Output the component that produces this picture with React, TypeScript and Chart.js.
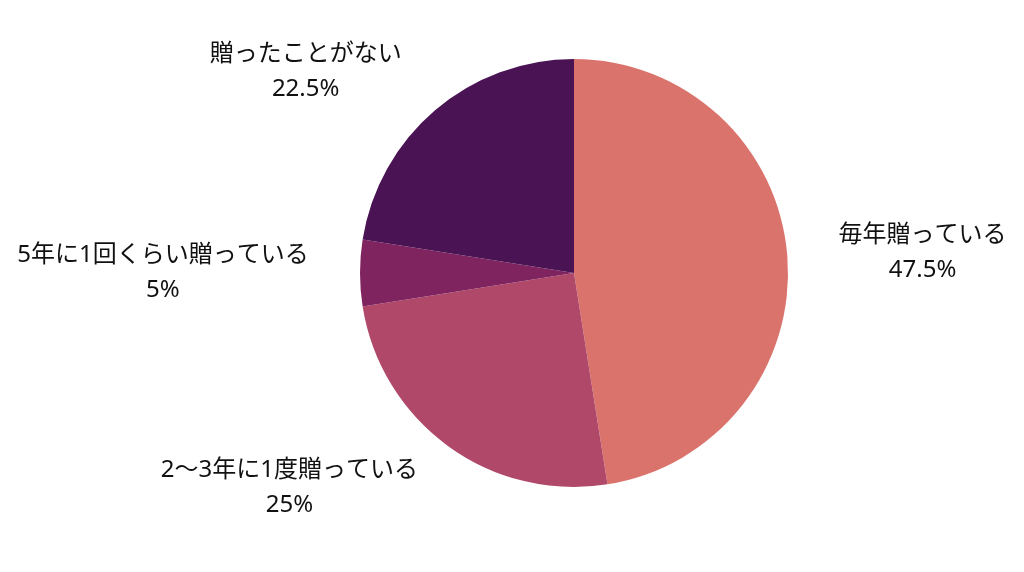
import React, { useEffect, useRef } from "react";
import { Chart, registerables } from "chart.js";

Chart.register(...registerables);

const categories = [
  "毎年贈っている",
  "2〜3年に1度贈っている",
  "5年に1回くらい贈っている",
  "贈ったことがない",
];
const values = [47.5, 25, 5, 22.5];
const valueLabels = ["47.5%", "25%", "5%", "22.5%"];
const colors = ["#DB736D", "#B0486A", "#80245F", "#4A1353"];

const FONT = "'Noto Sans', 'Noto Sans CJK JP', sans-serif";

const outsideLabels = {
  id: "outsideLabels",
  afterDraw(chart: any) {
    const ctx = chart.ctx;
    const meta = chart.getDatasetMeta(0);
    ctx.save();
    ctx.font = `24px ${FONT}`;
    ctx.fillStyle = "#111111";
    ctx.textBaseline = "middle";
    ctx.textAlign = "center";
    const lineH = 35;
    meta.data.forEach((arc: any, i: number) => {
      const { x, y, startAngle, endAngle, outerRadius } = arc.getProps(
        ["x", "y", "startAngle", "endAngle", "outerRadius"],
        true
      );
      const mid = (startAngle + endAngle) / 2;
      const r = outerRadius * 1.24;
      const ax = x + Math.cos(mid) * r;
      const ay = y + Math.sin(mid) * r;
      const lines = [categories[i], valueLabels[i]];
      const w = Math.max(...lines.map((l) => ctx.measureText(l).width));
      const c = Math.cos(mid);
      const cx = Math.abs(c) < 0.01 ? ax : c > 0 ? ax + w / 2 : ax - w / 2;
      lines.forEach((l, k) => {
        ctx.fillText(l, cx, ay + (k - (lines.length - 1) / 2) * lineH);
      });
    });
    ctx.restore();
  },
};

export default function App() {
  const ref = useRef<HTMLCanvasElement | null>(null);
  useEffect(() => {
    document.body.style.margin = "0";
    const chart = new Chart(ref.current as HTMLCanvasElement, {
      type: "pie",
      data: {
        labels: categories,
        datasets: [
          {
            data: values,
            backgroundColor: colors,
            borderWidth: 0,
          },
        ],
      },
      options: {
        animation: false,
        responsive: false,
        layout: { padding: { top: 59, bottom: 85, left: 360, right: 236 } },
        plugins: {
          legend: { display: false },
          tooltip: { enabled: false },
        },
      },
      plugins: [outsideLabels],
    });
    return () => chart.destroy();
  }, []);
  return (
    <div style={{ width: 1024, height: 572, background: "#ffffff" }}>
      <canvas ref={ref} width={1024} height={572} style={{ display: "block" }} />
    </div>
  );
}
